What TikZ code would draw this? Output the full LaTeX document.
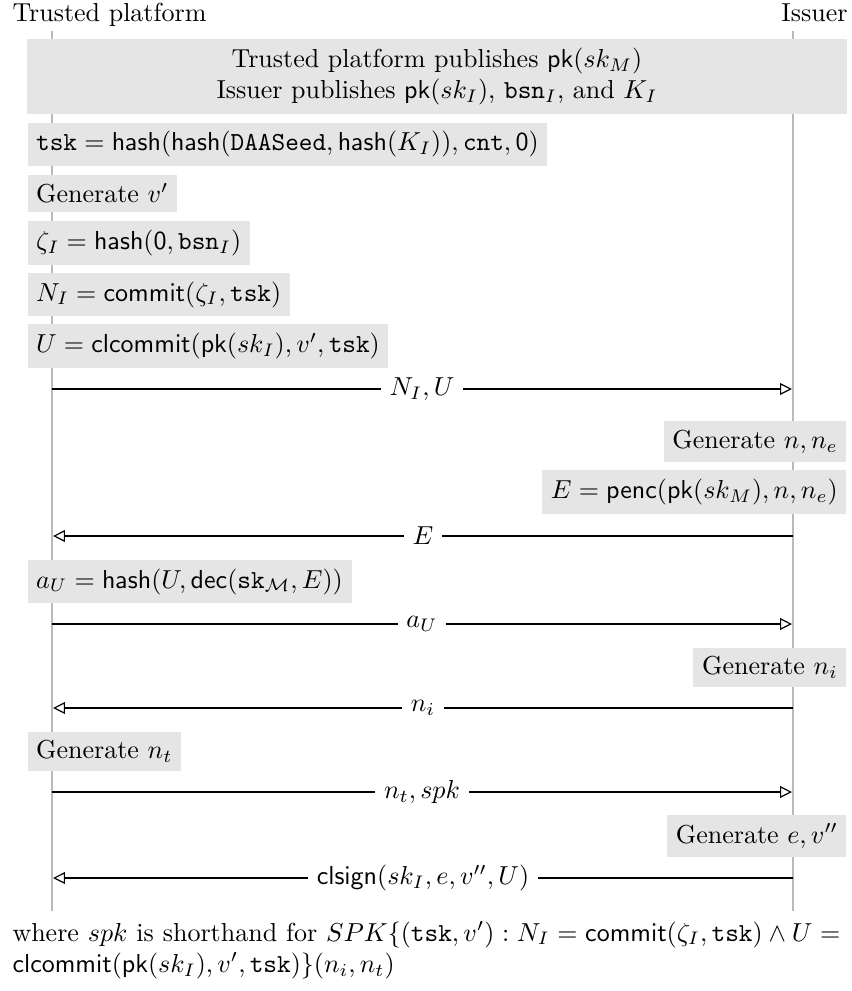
\documentclass[tikz,border=0pt]{standalone}
\usetikzlibrary{arrows.meta}
\begin{document}
\begin{tikzpicture}[x=0.3846pt, y=-0.3846pt,
  lifeline/.style={draw=black!27, line width=1pt},
  actbox/.style={fill=black!10, inner sep=3.33pt},
  msg/.style={draw=black, line width=0.45pt, -{Triangle[open, length=4.6pt, width=4.5pt]}},
  msglbl/.style={fill=white, inner sep=3.33pt},
  actor/.style={inner sep=0pt}]
\useasboundingbox (0,0) rectangle (852,991);

% actors
\node[actor, anchor=base west] (tpname) at (12,22) {Trusted platform};
\node[actor, anchor=base east] (isname) at (848,22) {Issuer};

% lifelines
\coordinate (tpT) at (52,31);
\coordinate (tpB) at (52,911);
\coordinate (isT) at (793,31);
\coordinate (isB) at (793,911);
\draw[lifeline] (tpT) -- (tpB);
\draw[lifeline] (isT) -- (isB);

% setup box
\node[actbox, minimum width=315.4pt, minimum height=28.1pt, align=center] (setup) at (437,76.5)
  {Trusted platform publishes $\mathsf{pk}(sk_M)$\\
   Issuer publishes $\mathsf{pk}(sk_I)$, $\mathtt{bsn}_I$, and $K_I$};

% trusted platform actions
\node[actbox, anchor=west] (tsk) at (27,144.5)
  {$\mathtt{tsk} = \mathsf{hash}(\mathsf{hash}(\mathtt{DAASeed}, \mathsf{hash}(K_I)), \mathtt{cnt}, \mathsf{0})$};
\node[actbox, anchor=west] (genv) at (27,193.5) {Generate $v'$};
\node[actbox, anchor=west] (zeta) at (27,243) {$\zeta_I = \mathsf{hash}(\mathsf{0}, \mathtt{bsn}_I)$};
\node[actbox, anchor=west] (NI) at (27,294.5) {$N_I = \mathsf{commit}(\zeta_I, \mathtt{tsk})$};
\node[actbox, anchor=west] (U) at (27,346) {$U = \mathsf{clcommit}(\mathsf{pk}(sk_I), v', \mathtt{tsk})$};

% message 1
\coordinate (m1L) at (52,389);
\coordinate (m1R) at (792,389);
\draw[msg] (m1L) -- node[msglbl] (m1lbl) {$N_I, U$} (m1R);

% issuer actions
\node[actbox, anchor=east] (genn) at (847,441.5) {Generate $n, n_e$};
\node[actbox, anchor=east] (E) at (847,492) {$E = \mathsf{penc}(\mathsf{pk}(sk_M), n, n_e)$};

% message 2
\coordinate (m2R) at (793,536);
\coordinate (m2L) at (53,536);
\draw[msg] (m2R) -- node[msglbl] (m2lbl) {$E$} (m2L);

\node[actbox, anchor=west] (aU) at (27,581.5)
  {$a_U = \mathsf{hash}(U, \mathsf{dec}(\mathtt{sk}_{\mathcal{M}}, E))$};

% message 3
\coordinate (m3L) at (52,624);
\coordinate (m3R) at (792,624);
\draw[msg] (m3L) -- node[msglbl] (m3lbl) {$a_U$} (m3R);

\node[actbox, anchor=east] (genni) at (847,667.5) {Generate $n_i$};

% message 4
\coordinate (m4R) at (793,708);
\coordinate (m4L) at (53,708);
\draw[msg] (m4R) -- node[msglbl] (m4lbl) {$n_i$} (m4L);

\node[actbox, anchor=west] (gennt) at (27,751.5) {Generate $n_t$};

% message 5
\coordinate (m5L) at (52,792);
\coordinate (m5R) at (792,792);
\draw[msg] (m5L) -- node[msglbl] (m5lbl) {$n_t, spk$} (m5R);

\node[actbox, anchor=east] (genev) at (847,836) {Generate $e, v''$};

% message 6
\coordinate (m6R) at (793,878);
\coordinate (m6L) at (53,878);
\draw[msg] (m6R) -- node[msglbl] (m6lbl) {$\mathsf{clsign}(sk_I, e, v'', U)$} (m6L);

% footnote
\node[anchor=north west, inner sep=0pt, text width=318.4pt, align=justify] (note) at (12,921)
  {where $spk$ is shorthand for $SPK\{(\mathtt{tsk}, v') : N_I = \mathsf{commit}(\zeta_I, \mathtt{tsk}) \wedge U =$\linebreak
   $\mathsf{clcommit}(\mathsf{pk}(sk_I), v', \mathtt{tsk})\}(n_i, n_t)$};
\end{tikzpicture}
\end{document}
